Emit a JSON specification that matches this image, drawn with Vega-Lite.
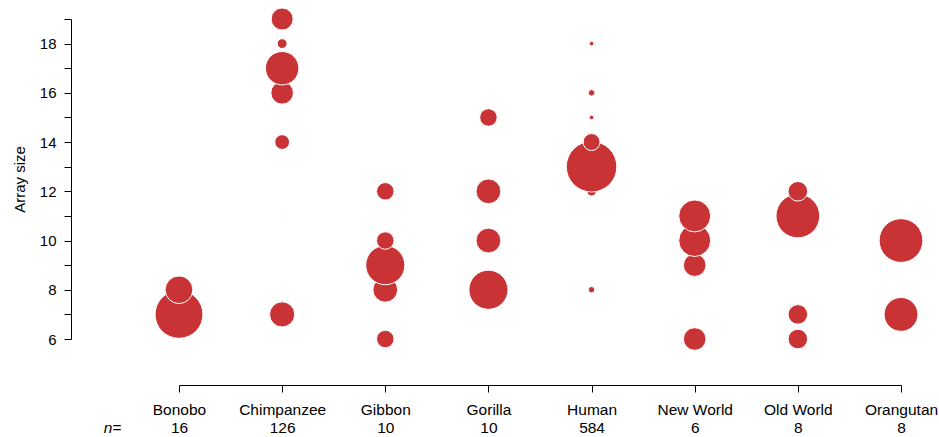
{
  "$schema": "https://vega.github.io/schema/vega-lite/v6.json",
  "width": 722,
  "height": 320,
  "autosize": {"type": "none"},
  "padding": {"left": 179, "top": 19, "right": 38, "bottom": 98},
  "background": "white",
  "config": {
    "view": {"stroke": null},
    "font": "Liberation Sans"
  },
  "data": {
    "values": [
      {"species": "Bonobo", "array_size": 7, "count": 12, "share": 0.75},
      {"species": "Bonobo", "array_size": 8, "count": 4, "share": 0.25},
      {"species": "Chimpanzee", "array_size": 7, "count": 26, "share": 0.2063},
      {"species": "Chimpanzee", "array_size": 11, "count": 0, "share": 0.0003},
      {"species": "Chimpanzee", "array_size": 13, "count": 0, "share": 0.0003},
      {"species": "Chimpanzee", "array_size": 14, "count": 9, "share": 0.0714},
      {"species": "Chimpanzee", "array_size": 16, "count": 21, "share": 0.1667},
      {"species": "Chimpanzee", "array_size": 17, "count": 46, "share": 0.3651},
      {"species": "Chimpanzee", "array_size": 18, "count": 4, "share": 0.0317},
      {"species": "Chimpanzee", "array_size": 19, "count": 20, "share": 0.1587},
      {"species": "Gibbon", "array_size": 6, "count": 1, "share": 0.1},
      {"species": "Gibbon", "array_size": 8, "count": 2, "share": 0.2},
      {"species": "Gibbon", "array_size": 9, "count": 5, "share": 0.5},
      {"species": "Gibbon", "array_size": 10, "count": 1, "share": 0.1},
      {"species": "Gibbon", "array_size": 12, "count": 1, "share": 0.1},
      {"species": "Gorilla", "array_size": 8, "count": 5, "share": 0.5},
      {"species": "Gorilla", "array_size": 10, "count": 2, "share": 0.2},
      {"species": "Gorilla", "array_size": 12, "count": 2, "share": 0.2},
      {"species": "Gorilla", "array_size": 15, "count": 1, "share": 0.1},
      {"species": "Human", "array_size": 8, "count": 8, "share": 0.0137},
      {"species": "Human", "array_size": 12, "count": 17, "share": 0.0291},
      {"species": "Human", "array_size": 13, "count": 488, "share": 0.8356},
      {"species": "Human", "array_size": 14, "count": 55, "share": 0.0942},
      {"species": "Human", "array_size": 15, "count": 4, "share": 0.0068},
      {"species": "Human", "array_size": 16, "count": 8, "share": 0.0137},
      {"species": "Human", "array_size": 18, "count": 4, "share": 0.0068},
      {"species": "New World", "array_size": 6, "count": 1, "share": 0.1667},
      {"species": "New World", "array_size": 9, "count": 1, "share": 0.1667},
      {"species": "New World", "array_size": 10, "count": 2, "share": 0.3333},
      {"species": "New World", "array_size": 11, "count": 2, "share": 0.3333},
      {"species": "Old World", "array_size": 6, "count": 1, "share": 0.125},
      {"species": "Old World", "array_size": 7, "count": 1, "share": 0.125},
      {"species": "Old World", "array_size": 11, "count": 5, "share": 0.625},
      {"species": "Old World", "array_size": 12, "count": 1, "share": 0.125},
      {"species": "Orangutan", "array_size": 7, "count": 3, "share": 0.375},
      {"species": "Orangutan", "array_size": 10, "count": 5, "share": 0.625}
    ]
  },
  "mark": {"type": "point", "shape": "circle", "filled": true, "opacity": 1, "fill": "#CA3335", "stroke": "white", "strokeWidth": 1},
  "encoding": {
    "x": {
      "field": "species",
      "type": "nominal",
      "scale": {"type": "point", "padding": 0, "domain": ["Bonobo", "Chimpanzee", "Gibbon", "Gorilla", "Human", "New World", "Old World", "Orangutan"]},
      "axis": {
        "title": "n=",
        "titleFont": "Liberation Sans",
        "titleFontSize": 15.5,
        "titleFontWeight": "normal",
        "titleFontStyle": "italic",
        "titleColor": "black",
        "titleX": -67,
        "titleY": 47,
        "titleAlign": "center",
        "titleBaseline": "alphabetic",
        "titleAngle": 0,
        "offset": 46,
        "domainColor": "black",
        "domainWidth": 1,
        "tickColor": "black",
        "tickSize": 7,
        "tickWidth": 1,
        "labelAngle": 0,
        "labelPadding": 10,
        "labelFontSize": 15.5,
        "labelColor": "black",
        "labelLineHeight": 18,
        "labelAlign": "center",
        "labelBaseline": "top",
        "labelExpr": "[datum.label, datum.label == 'Bonobo' ? '16' : datum.label == 'Chimpanzee' ? '126' : datum.label == 'Gibbon' ? '10' : datum.label == 'Gorilla' ? '10' : datum.label == 'Human' ? '584' : datum.label == 'New World' ? '6' : '8']",
        "grid": false
      }
    },
    "y": {
      "field": "array_size",
      "type": "quantitative",
      "scale": {"domain": [6, 19], "nice": false, "zero": false},
      "axis": {
        "title": "Array size",
        "titleFont": "Liberation Sans",
        "titleFontSize": 15,
        "titleFontWeight": "normal",
        "titleColor": "black",
        "titlePadding": 12,
        "offset": 108,
        "values": [6, 7, 8, 9, 10, 11, 12, 13, 14, 15, 16, 17, 18, 19],
        "labelExpr": "datum.value % 2 === 0 ? datum.label : ''",
        "domainColor": "black",
        "domainWidth": 1,
        "tickColor": "black",
        "tickSize": 7,
        "tickWidth": 1,
        "labelPadding": 8,
        "labelFontSize": 15,
        "labelColor": "black",
        "grid": false
      }
    },
    "size": {
      "field": "share",
      "type": "quantitative",
      "scale": {"type": "linear", "domain": [0, 1], "range": [0, 3060], "zero": true},
      "legend": null
    },
    "order": {"field": "array_size", "type": "quantitative", "sort": "ascending"}
  }
}
